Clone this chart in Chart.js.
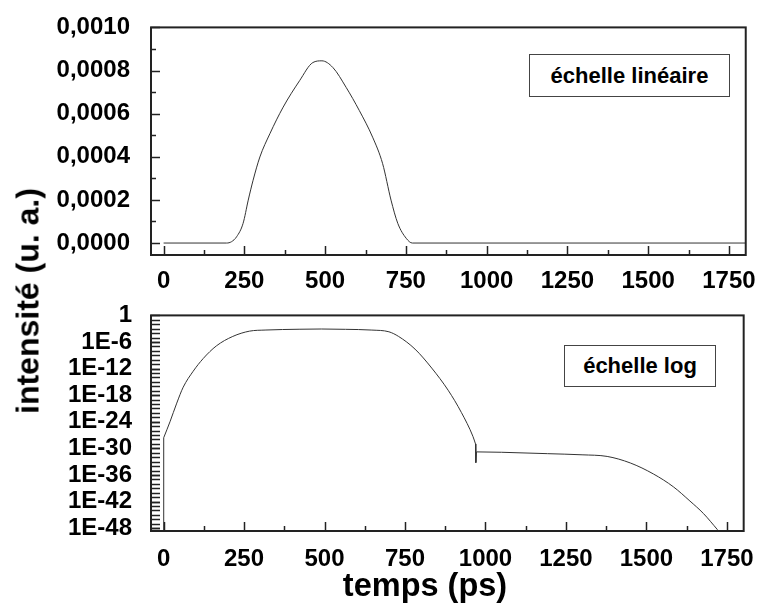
<!DOCTYPE html>
<html>
<head>
<meta charset="utf-8">
<script src="https://cdn.jsdelivr.net/npm/chart.js@4"></script>
<style>
  body { margin: 0; background: #fff; }
  #page { position: relative; width: 760px; height: 606px; overflow: hidden;
          font-family: "Liberation Sans", Arial, sans-serif; font-weight: bold; color: #000; }
  canvas { position: absolute; left: 0; }
  #top { top: 0; }
  #bottom { top: 290px; }
  .note { position: absolute; box-sizing: border-box; border: 1px solid #444; background: #fff;
          font-size: 22px; display: flex; align-items: center; justify-content: center; }
  .title { position: absolute; white-space: nowrap; transform: translate(-50%, -50%); }
  #ytitle { left: 28px; top: 301px; font-size: 32px; transform: translate(-50%, -50%) rotate(-90deg); }
  #xtitle { left: 425px; top: 585px; font-size: 32.5px; }
</style>
</head>
<body>
<div id="page">
  <canvas id="top" width="760" height="290"></canvas>
  <canvas id="bottom" width="760" height="316"></canvas>
  <div class="note" style="left:529px;top:54px;width:201px;height:43px">échelle linéaire</div>
  <div class="note" style="left:564px;top:345px;width:152px;height:42px">échelle log</div>
  <div id="ytitle" class="title">intensité (u. a.)</div>
  <div id="xtitle" class="title">temps (ps)</div>
</div>
<script>
// time axis (ps)
let xTicks = [0, 250, 500, 750, 1000, 1250, 1500, 1750];
let xMinorTicks = [125, 375, 625, 875, 1125, 1375, 1625];

// linear panel
let linTicks = [0, 0.0002, 0.0004, 0.0006, 0.0008, 0.0010];
let linLabels = ["0,0000", "0,0002", "0,0004", "0,0006", "0,0008", "0,0010"];
let linMinorTicks = [0.0001, 0.0003, 0.0005, 0.0007, 0.0009];
let linTime = [0, 195, 210, 226, 246, 262, 277, 298, 329, 370, 421, 462, 490, 524, 565, 606, 647, 678, 704, 725, 751, 770, 1800];
let linIntensity = [0, 0, 0.000006, 0.000029, 0.000091, 0.000199, 0.000291, 0.000399, 0.000507, 0.00063, 0.000753,
                    0.000837, 0.000845, 0.000814, 0.000722, 0.000614, 0.000491, 0.000368, 0.000199, 0.000091, 0.000022, 0, 0];

// log panel, read as separate pieces (the steps at 0 ps and ~970 ps are drawn straight)
let logTicks = [1, 1e-6, 1e-12, 1e-18, 1e-24, 1e-30, 1e-36, 1e-42, 1e-48];
let logLabels = ["1", "1E-6", "1E-12", "1E-18", "1E-24", "1E-30", "1E-36", "1E-42", "1E-48"];
let stepStartTime = [0, 0.5];
let stepStart = [1e-50, 2.5e-28];
let pulseTime = [0.5, 20, 41, 61, 92, 123, 164, 215, 267, 318, 421, 490, 565, 647, 700, 730, 781, 833, 884, 925, 961, 969];
let pulse = [2.5e-28, 1e-24, 1.6e-20, 6.3e-17, 2.5e-13, 1.8e-10, 1.3e-7, 1.8e-5, 2.8e-4, 5e-4, 7.5e-4, 8.5e-4,
             7.2e-4, 4.9e-4, 2e-4, 1.8e-5, 2.5e-8, 1.3e-12, 1.3e-17, 1.3e-22, 5e-28, 1e-29];
let dipTime = [969, 970, 972];
let dip = [1e-29, 6e-34, 1.6e-31];
let tailTime = [972, 1050, 1193, 1300, 1378, 1450, 1522, 1584, 1635, 1677, 1720, 1740];
let tail = [1.6e-31, 1.3e-31, 6.3e-32, 3.5e-32, 1.5e-32, 5e-34, 1.6e-36, 2e-39, 1.3e-42, 2e-45, 5e-49, 1e-50];

let tickFont = { family: "Liberation Sans", size: 24, weight: "bold" };

// frame + inward tick marks
const frameTicks = {
  id: 'frameTicks',
  afterDraw(chart, args, opts) {
    const { ctx, chartArea: a, scales } = chart;
    const line = (x1, y1, x2, y2) => { ctx.beginPath(); ctx.moveTo(x1, y1); ctx.lineTo(x2, y2); ctx.stroke(); };
    ctx.save();
    ctx.strokeStyle = '#222';
    ctx.lineWidth = 1.5;
    scales.x.ticks.forEach(t => { const p = Math.round(scales.x.getPixelForValue(t.value)) + 0.5; line(p, a.bottom, p, a.bottom - 9); });
    opts.xMinor.forEach(v => { const p = Math.round(scales.x.getPixelForValue(v)) + 0.5; line(p, a.bottom, p, a.bottom - 5); });
    scales.y.ticks.forEach(t => { const p = Math.round(scales.y.getPixelForValue(t.value)) + 0.5; line(a.left, p, a.left + 9, p); });
    opts.yMinor.forEach(v => { const p = Math.round(scales.y.getPixelForValue(v)) + 0.5; line(a.left, p, a.left + opts.yMinorLen, p); });
    ctx.lineWidth = 2;
    ctx.strokeRect(a.left, a.top, a.right - a.left, a.bottom - a.top);
    ctx.restore();
  }
};

function xScale(pad) {
  return {
    type: 'linear', min: -39, max: 1802,
    grid: { display: false }, border: { display: false },
    afterBuildTicks: s => { s.ticks = xTicks.map(v => ({ value: v })); },
    afterFit: s => { s.height = pad.h; },
    ticks: { autoSkip: false, maxRotation: 0, padding: pad.p, color: '#000', font: tickFont, callback: v => String(v) }
  };
}

function toPoints(time, values) {
  return time.map((t, i) => ({ x: t, y: values[i] }));
}

function curve(points, mode) {
  return { data: points, borderColor: '#333', borderWidth: 1, pointRadius: 0, fill: false,
           cubicInterpolationMode: mode, tension: 0 };
}

function panel(id, datasets, yOpts, pad, minor) {
  return new Chart(document.getElementById(id), {
    type: 'line',
    data: { datasets: datasets },
    options: {
      responsive: false, animation: false,
      layout: { padding: { left: 0, right: 13, top: pad.top, bottom: 0 } },
      plugins: { legend: { display: false }, tooltip: { enabled: false }, frameTicks: minor },
      scales: { x: xScale(pad), y: yOpts }
    },
    plugins: [frameTicks]
  });
}

panel('top', [curve(toPoints(linTime, linIntensity), 'monotone')], {
  type: 'linear', min: -0.0000555, max: 0.001,
  grid: { display: false }, border: { display: false },
  afterBuildTicks: s => { s.ticks = linTicks.map(v => ({ value: v })); },
  afterFit: s => { s.width = 151; },
  ticks: { autoSkip: false, padding: 13, color: '#000', font: tickFont, callback: (v, i) => linLabels[i] }
}, { top: 27, h: 35, p: 4 }, { xMinor: xMinorTicks, yMinor: linMinorTicks, yMinorLen: 5 });

let decades = [];
for (let k = 1; k <= 48; k++) decades.push(Math.pow(10, -k));

panel('bottom', [
  curve(toPoints(stepStartTime, stepStart), 'default'),
  curve(toPoints(pulseTime, pulse), 'monotone'),
  curve(toPoints(dipTime, dip), 'default'),
  curve(toPoints(tailTime, tail), 'monotone')
], {
  type: 'logarithmic', min: 2.24e-49, max: 1,
  grid: { display: false }, border: { display: false },
  afterBuildTicks: s => { s.ticks = logTicks.map(v => ({ value: v })); },
  afterFit: s => { s.width = 151; },
  ticks: { autoSkip: false, padding: 11, color: '#000', font: tickFont, callback: (v, i) => logLabels[i] }
}, { top: 14, h: 75, p: 6 }, { xMinor: xMinorTicks, yMinor: decades, yMinorLen: 9 });
</script>
</body>
</html>
